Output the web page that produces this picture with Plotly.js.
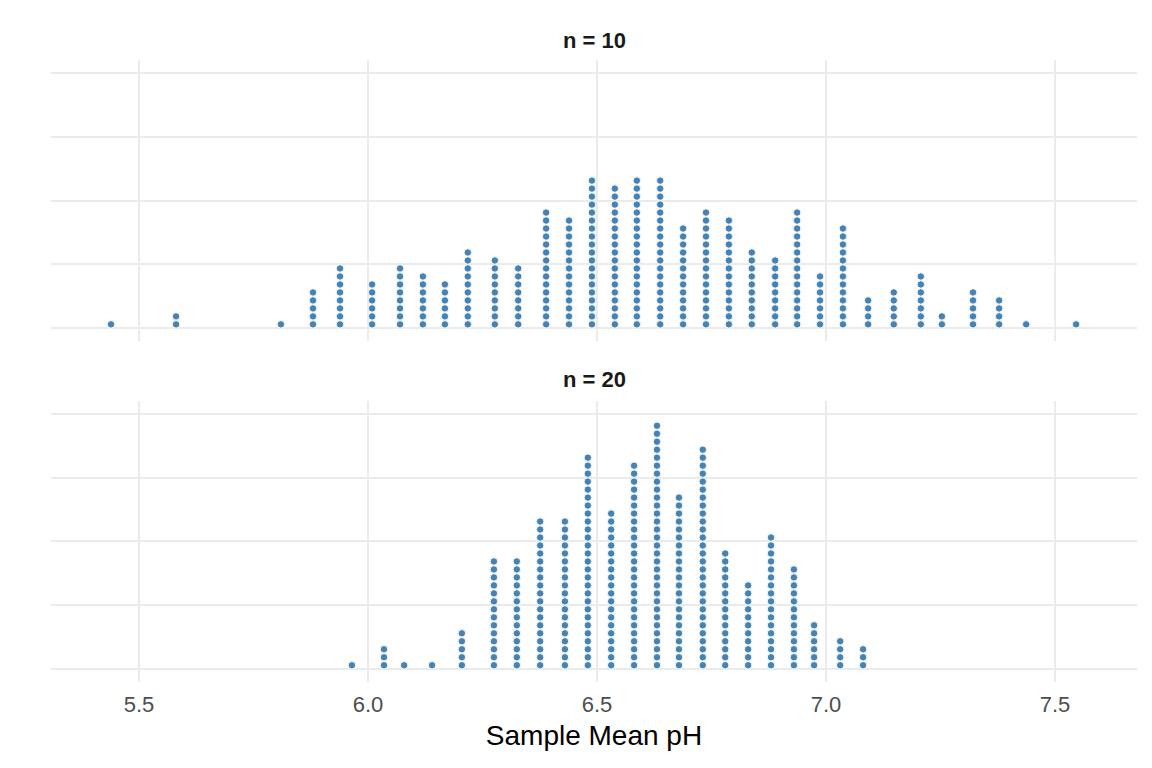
<!DOCTYPE html>
<html>
<head>
<meta charset="utf-8">
<script src="https://cdn.plot.ly/plotly-3.0.1.min.js"></script>
<style>html,body{margin:0;padding:0;background:#fff;}#chart{width:1152px;height:768px;}</style>
</head>
<body>
<div id="chart"></div>
<script>
// Sample means (stack centres) and number of dots in each stack
const n10Means = [5.439, 5.581, 5.810, 5.880, 5.939, 6.009, 6.070, 6.120, 6.168, 6.218,
  6.277, 6.328, 6.389, 6.439, 6.489, 6.539, 6.587, 6.638, 6.688, 6.738,
  6.788, 6.838, 6.889, 6.937, 6.987, 7.037, 7.092, 7.148, 7.207, 7.253,
  7.321, 7.378, 7.437, 7.546];
const n10Counts = [1, 2, 1, 5, 8, 6, 8, 7, 6, 10,
  9, 8, 15, 14, 19, 18, 19, 19, 13, 15,
  14, 10, 9, 15, 7, 13, 4, 5, 7, 2,
  5, 4, 1, 1];

const n20Means = [5.965, 6.035, 6.079, 6.140, 6.205, 6.275, 6.325, 6.376, 6.430, 6.480,
  6.531, 6.581, 6.631, 6.679, 6.731, 6.780, 6.830, 6.880, 6.930, 6.974,
  7.031, 7.081];
const n20Counts = [1, 3, 1, 1, 5, 14, 14, 19, 19, 27,
  20, 26, 31, 22, 28, 15, 11, 17, 13, 6,
  4, 3];

const panelTitles = ["n = 10", "n = 20"];
const xTickVals = [5.5, 6.0, 6.5, 7.0, 7.5];
const xTickText = ["5.5", "6.0", "6.5", "7.0", "7.5"];
const xTitle = "Sample Mean pH";

const dotStep = 0.03125; // stacking step in y units

function stack(means, counts) {
  const xs = [], ys = [];
  means.forEach((m, i) => {
    for (let k = 0; k < counts[i]; k++) { xs.push(m); ys.push((k + 0.5) * dotStep); }
  });
  return {xs, ys};
}

const s10 = stack(n10Means, n10Counts);
const s20 = stack(n20Means, n20Counts);

const marker = {color: '#4682B4', size: 7.5, line: {color: '#FFFFFF', width: 1}};

const traces = [
  {x: s10.xs, y: s10.ys, xaxis: 'x2', yaxis: 'y2', type: 'scatter', mode: 'markers', marker: marker, hoverinfo: 'x', showlegend: false},
  {x: s20.xs, y: s20.ys, xaxis: 'x', yaxis: 'y', type: 'scatter', mode: 'markers', marker: marker, hoverinfo: 'x', showlegend: false}
];

const xRange = [5.308, 7.679];
const gridC = '#EBEBEB';
const fontFam = '"Liberation Sans", Arial, sans-serif';

const yCommon = {
  range: [-0.05, 1.05], tickvals: [0, 0.25, 0.5, 0.75, 1], showticklabels: false,
  showgrid: true, gridcolor: gridC, gridwidth: 2, zeroline: false, showline: false, ticks: ''
};

const layout = {
  width: 1152, height: 768,
  margin: {l: 51, r: 15, t: 60, b: 86},
  paper_bgcolor: '#FFFFFF', plot_bgcolor: '#FFFFFF',
  font: {family: fontFam, color: '#4D4D4D'},
  xaxis: {
    domain: [0, 1], anchor: 'y', range: xRange, tickvals: xTickVals, ticktext: xTickText,
    showgrid: true, gridcolor: gridC, gridwidth: 2, zeroline: false, showline: false,
    ticks: 'outside', ticklen: 3, tickcolor: 'rgba(0,0,0,0)',
    tickfont: {size: 22, color: '#4D4D4D', family: fontFam},
    title: {text: xTitle, font: {size: 28, color: '#000000', family: fontFam}, standoff: 8}
  },
  xaxis2: {
    domain: [0, 1], anchor: 'y2', range: xRange, tickvals: xTickVals, matches: 'x',
    showticklabels: false, showgrid: true, gridcolor: gridC, gridwidth: 2,
    zeroline: false, showline: false, ticks: ''
  },
  yaxis: Object.assign({domain: [0, 0.4518], anchor: 'x'}, yCommon),
  yaxis2: Object.assign({domain: [0.548, 1], anchor: 'x2'}, yCommon),
  annotations: [
    {text: '<b>' + panelTitles[0] + '</b>', xref: 'paper', yref: 'paper', x: 0.5, y: 1, yshift: 20,
     showarrow: false, xanchor: 'center', yanchor: 'middle', font: {size: 22, color: '#1A1A1A', family: fontFam}},
    {text: '<b>' + panelTitles[1] + '</b>', xref: 'paper', yref: 'paper', x: 0.5, y: 0.4518, yshift: 21,
     showarrow: false, xanchor: 'center', yanchor: 'middle', font: {size: 22, color: '#1A1A1A', family: fontFam}}
  ]
};

Plotly.newPlot('chart', traces, layout, {displayModeBar: false, staticPlot: true});
</script>
</body>
</html>
